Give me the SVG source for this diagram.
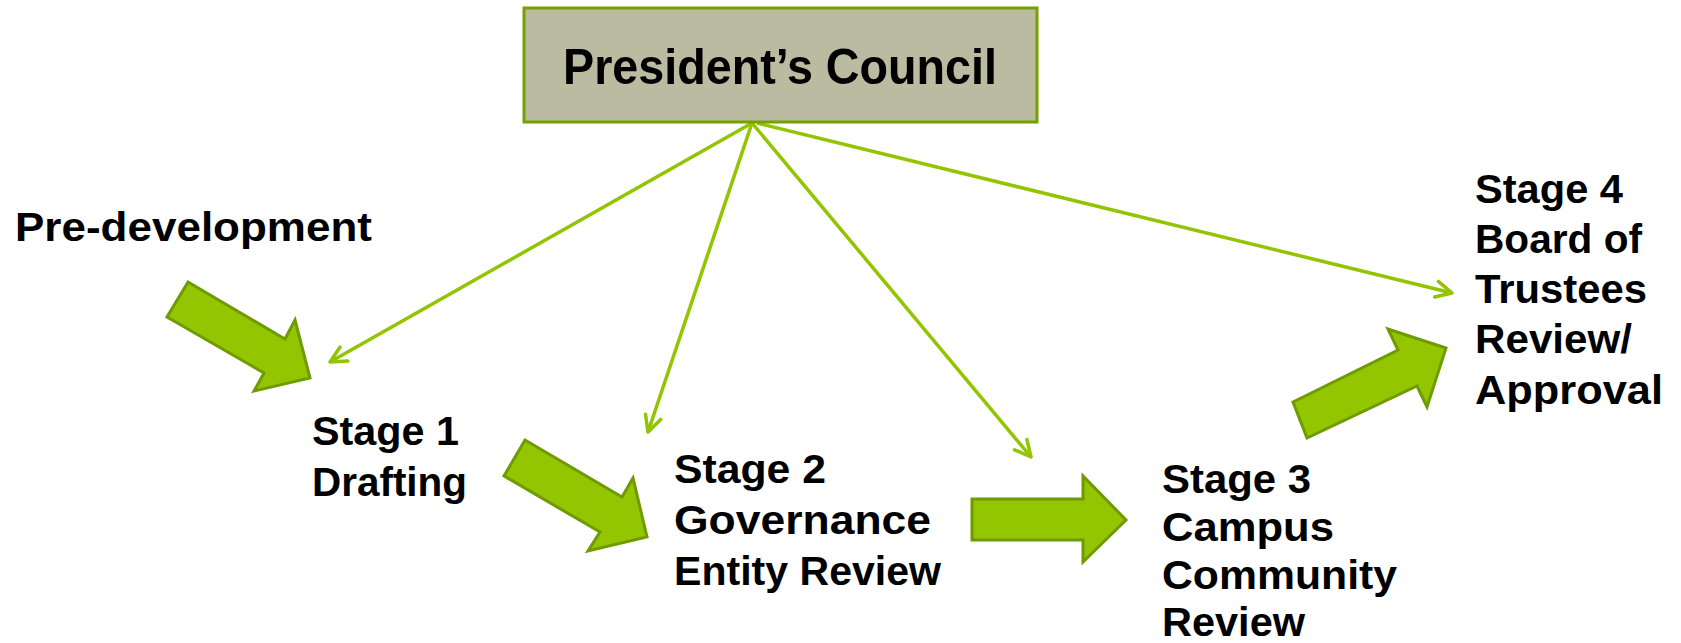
<svg xmlns="http://www.w3.org/2000/svg" width="1681" height="643" viewBox="0 0 1681 643">
  <style>
    .lbl { font-family: "Liberation Sans", Arial, sans-serif; font-weight: bold; font-size: 40px; fill: #000; }
    .title { font-family: "Liberation Sans", Arial, sans-serif; font-weight: bold; font-size: 50px; fill: #000; }
    .block { fill: #93c500; stroke: #6f9a00; stroke-width: 3; stroke-linejoin: miter; }
    .link { stroke: #92c400; stroke-width: 3.5; fill: none; }
  </style>
  <defs>
    <marker id="openArrow" viewBox="0 0 20 20" refX="18" refY="10" markerWidth="20" markerHeight="20" markerUnits="userSpaceOnUse" orient="auto">
      <path d="M2,2 L18,10 L2,18" fill="none" stroke="#92c400" stroke-width="3.5" stroke-linecap="round" stroke-linejoin="round"/>
    </marker>
  </defs>
  <rect width="1681" height="643" fill="#ffffff"/>

  <!-- thin oversight links from the council to each stage -->
  <g id="connectors">
    <line class="link" x1="752" y1="123" x2="330" y2="362" marker-end="url(#openArrow)"/>
    <line class="link" x1="752" y1="123" x2="648" y2="432" marker-end="url(#openArrow)"/>
    <line class="link" x1="752" y1="123" x2="1031" y2="457" marker-end="url(#openArrow)"/>
    <line class="link" x1="757" y1="123" x2="1452" y2="293" marker-end="url(#openArrow)"/>
  </g>

  <!-- block arrows showing stage progression -->
  <g id="flow-arrows">
    <polygon class="block" points="188,282 285,339 295,320 310,378 254,391 264,373 167,317"/>
    <polygon class="block" points="525,440 622,497 633,478 647,537 588,551 600,532 504,476"/>
    <polygon class="block" points="972,499 1083,499 1083,476 1126,520 1083,562 1083,540 972,540"/>
    <polygon class="block" points="1293,402 1398,350 1388,329 1446,348 1427,407 1417,386 1307,438"/>
  </g>

  <g id="presidents-council">
    <rect x="524" y="8" width="513" height="114" fill="#bbbba1" stroke="#76a000" stroke-width="3"/>
    <text class="title" x="563" y="84" textLength="434" lengthAdjust="spacingAndGlyphs">President’s Council</text>
  </g>

  <g id="pre-development">
    <text class="lbl" x="15" y="241" textLength="357" lengthAdjust="spacingAndGlyphs">Pre-development</text>
  </g>

  <g id="stage-1">
    <text class="lbl" x="312" y="445" textLength="147" lengthAdjust="spacingAndGlyphs">Stage 1</text>
    <text class="lbl" x="312" y="496" textLength="155" lengthAdjust="spacingAndGlyphs">Drafting</text>
  </g>

  <g id="stage-2">
    <text class="lbl" x="674" y="483" textLength="152" lengthAdjust="spacingAndGlyphs">Stage 2</text>
    <text class="lbl" x="674" y="534" textLength="257" lengthAdjust="spacingAndGlyphs">Governance</text>
    <text class="lbl" x="674" y="585" textLength="267" lengthAdjust="spacingAndGlyphs">Entity Review</text>
  </g>

  <g id="stage-3">
    <text class="lbl" x="1162" y="493" textLength="149" lengthAdjust="spacingAndGlyphs">Stage 3</text>
    <text class="lbl" x="1162" y="541" textLength="172" lengthAdjust="spacingAndGlyphs">Campus</text>
    <text class="lbl" x="1162" y="589" textLength="235" lengthAdjust="spacingAndGlyphs">Community</text>
    <text class="lbl" x="1162" y="636" textLength="143" lengthAdjust="spacingAndGlyphs">Review</text>
  </g>

  <g id="stage-4">
    <text class="lbl" x="1475" y="203" textLength="148" lengthAdjust="spacingAndGlyphs">Stage 4</text>
    <text class="lbl" x="1475" y="253" textLength="167" lengthAdjust="spacingAndGlyphs">Board of</text>
    <text class="lbl" x="1475" y="303" textLength="172" lengthAdjust="spacingAndGlyphs">Trustees</text>
    <text class="lbl" x="1475" y="353" textLength="157" lengthAdjust="spacingAndGlyphs">Review/</text>
    <text class="lbl" x="1475" y="404" textLength="188" lengthAdjust="spacingAndGlyphs">Approval</text>
  </g>
</svg>
